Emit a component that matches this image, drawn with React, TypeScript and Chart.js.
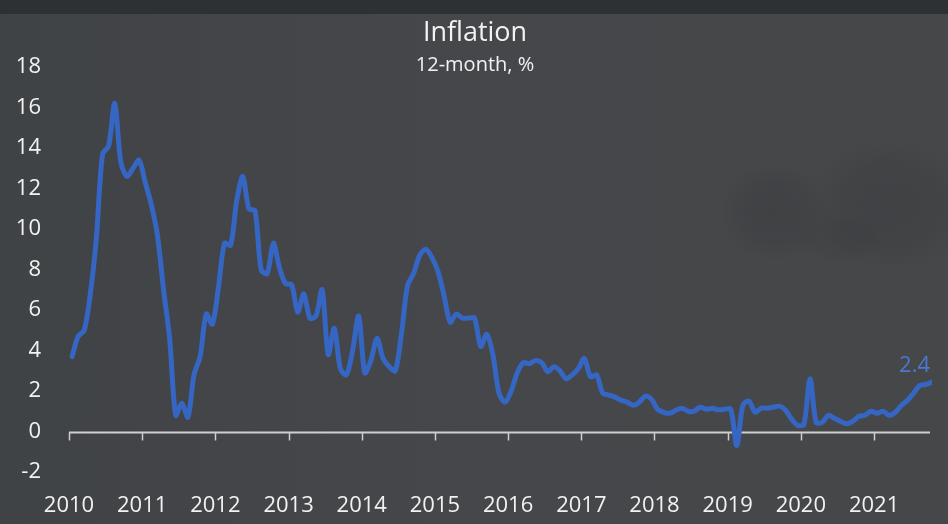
import React, { useEffect, useRef } from "react";
import { Chart, registerables } from "chart.js";

Chart.register(...registerables);

const chartTitle = "Inflation";
const chartSubtitle = "12-month, %";
const startYear = 2010;
const yearTicks = [2010, 2011, 2012, 2013, 2014, 2015, 2016, 2017, 2018, 2019, 2020, 2021];
const yTicks = [-2, 0, 2, 4, 6, 8, 10, 12, 14, 16, 18];

// Monthly 12-month inflation, %, Jan 2010 .. Oct 2021
const v2010 = [3.7, 4.7, 5.0, 6.8, 9.6, 13.7, 14.1, 16.2, 13.3, 12.6, 13.0, 13.4];
const v2011 = [12.3, 11.2, 9.7, 7.0, 4.6, 0.8, 1.4, 0.7, 2.8, 3.7, 5.8, 5.3];
const v2012 = [7.1, 9.3, 9.2, 11.4, 12.6, 11.0, 10.9, 8.0, 7.8, 9.3, 8.1, 7.3];
const v2013 = [7.25, 5.9, 6.8, 5.6, 5.7, 7.0, 3.8, 5.1, 3.1, 2.8, 4.0, 5.7];
const v2014 = [2.9, 3.5, 4.6, 3.6, 3.2, 3.0, 4.8, 7.2, 7.8, 8.7, 9.0, 8.6];
const v2015 = [7.9, 6.7, 5.4, 5.8, 5.6, 5.6, 5.6, 4.2, 4.8, 3.8, 1.9, 1.45];
const v2016 = [2.0, 2.9, 3.4, 3.35, 3.5, 3.4, 2.95, 3.2, 3.0, 2.6, 2.8, 3.1];
const v2017 = [3.6, 2.7, 2.8, 1.9, 1.8, 1.7, 1.55, 1.45, 1.3, 1.45, 1.75, 1.6];
const v2018 = [1.1, 0.95, 0.9, 1.05, 1.15, 1.0, 1.0, 1.2, 1.1, 1.15, 1.07, 1.1];
const v2019 = [1.1, -0.7, 1.3, 1.5, 0.95, 1.15, 1.15, 1.2, 1.25, 1.05, 0.6, 0.3];
const v2020 = [0.35, 2.6, 0.45, 0.45, 0.8, 0.65, 0.5, 0.38, 0.5, 0.75, 0.8, 1.0];
const v2021 = [0.9, 1.0, 0.8, 0.95, 1.3, 1.55, 1.9, 2.27, 2.32, 2.44];

const monthly = [...v2010, ...v2011, ...v2012, ...v2013, ...v2014, ...v2015, ...v2016, ...v2017, ...v2018, ...v2019, ...v2020, ...v2021];
const points = monthly.map((v, i) => ({ x: startYear + (i + 0.5) / 12, y: v }));
const lastPoint = points[points.length - 1];

const FONT = "'Open Sans', 'Noto Sans', sans-serif";
const LINE_COLOR = "#3566c4";
const TEXT_COLOR = "#f2f2f2";

const backgroundPlugin = {
  id: "bgPlugin",
  beforeDraw(chart: any) {
    const { ctx, width, height } = chart;
    ctx.save();
    const g = ctx.createLinearGradient(0, 0, width, 0);
    g.addColorStop(0, "#404346");
    g.addColorStop(0.5, "#46474a");
    g.addColorStop(1, "#454749");
    ctx.fillStyle = g;
    ctx.fillRect(0, 0, width, height);
    // top band
    ctx.fillStyle = "#2e3134";
    ctx.fillRect(0, 0, width, 14);
    // very faint tree silhouettes
    const blob = (cx: number, cy: number, rx: number, ry: number, a: number) => {
      ctx.save();
      ctx.translate(cx, cy);
      ctx.scale(rx / ry, 1);
      const rg = ctx.createRadialGradient(0, 0, 0, 0, 0, ry);
      rg.addColorStop(0, `rgba(50,54,56,${a})`);
      rg.addColorStop(0.6, `rgba(50,54,56,${a * 0.75})`);
      rg.addColorStop(1, "rgba(50,54,56,0)");
      ctx.fillStyle = rg;
      ctx.beginPath();
      ctx.arc(0, 0, ry, 0, Math.PI * 2);
      ctx.fill();
      ctx.restore();
    };
    blob(775, 212, 55, 50, 0.3);
    blob(890, 205, 80, 66, 0.28);
    blob(840, 238, 45, 25, 0.2);
    ctx.restore();
  },
};

const zeroAxisPlugin = {
  id: "zeroAxis",
  beforeDatasetsDraw(chart: any) {
    const { ctx, chartArea } = chart;
    const xs = chart.scales.x;
    const ys = chart.scales.y;
    const y0 = Math.round(ys.getPixelForValue(0)) + 0.5;
    ctx.save();
    ctx.strokeStyle = "#cfcfcf";
    ctx.lineWidth = 2;
    ctx.beginPath();
    ctx.moveTo(xs.getPixelForValue(yearTicks[0]), y0);
    ctx.lineTo(chartArea.right - 2, y0);
    ctx.stroke();
    ctx.lineWidth = 1.5;
    yearTicks.forEach((yr) => {
      const px = Math.round(xs.getPixelForValue(yr)) + 0.5;
      ctx.beginPath();
      ctx.moveTo(px, y0);
      ctx.lineTo(px, y0 + 8);
      ctx.stroke();
    });
    ctx.restore();
  },
};

const textPlugin = {
  id: "texts",
  afterDraw(chart: any) {
    const { ctx, width } = chart;
    const xs = chart.scales.x;
    const ys = chart.scales.y;
    ctx.save();
    ctx.fillStyle = TEXT_COLOR;
    ctx.textAlign = "center";
    ctx.textBaseline = "middle";
    ctx.font = `27px ${FONT}`;
    ctx.fillText(chartTitle, width / 2 + 1, 33);
    ctx.font = `20px ${FONT}`;
    ctx.fillText(chartSubtitle, width / 2 + 1, 65);
    // end label
    const lx = xs.getPixelForValue(lastPoint.x);
    const ly = ys.getPixelForValue(lastPoint.y);
    ctx.fillStyle = "#4a78d2";
    ctx.font = `22px ${FONT}`;
    ctx.textAlign = "right";
    ctx.textBaseline = "alphabetic";
    ctx.fillText(lastPoint.y.toFixed(1), lx - 2, ly - 10);
    ctx.restore();
  },
};

export default function App() {
  const ref = useRef<HTMLCanvasElement | null>(null);

  useEffect(() => {
    if (!ref.current) return;
    const chart = new Chart(ref.current, {
      type: "line",
      data: {
        datasets: [
          {
            data: points,
            borderColor: LINE_COLOR,
            borderWidth: 5,
            pointRadius: 0,
            tension: 0.3,
            borderCapStyle: "round",
            borderJoinStyle: "round",
            fill: false,
          },
        ],
      },
      options: {
        animation: false,
        responsive: false,
        maintainAspectRatio: false,
        layout: { padding: { left: 9, right: 16, top: 67, bottom: 0 } },
        plugins: {
          legend: { display: false },
          tooltip: { enabled: false },
          title: { display: false },
        },
        scales: {
          x: {
            type: "linear",
            min: yearTicks[0],
            max: lastPoint.x,
            grid: { display: false, drawTicks: false },
            border: { display: false },
            afterFit: (s: any) => {
              s.height = 52;
            },
            ticks: {
              stepSize: 1,
              includeBounds: false,
              autoSkip: false,
              maxRotation: 0,
              padding: 21,
              color: TEXT_COLOR,
              font: { family: FONT, size: 22 },
              callback: (v: any) => (yearTicks.includes(Number(v)) ? String(v) : ""),
            },
          },
          y: {
            min: yTicks[0],
            max: yTicks[yTicks.length - 1],
            grid: { display: false, drawTicks: false },
            border: { display: false },
            afterFit: (s: any) => {
              s.width = 60;
            },
            ticks: {
              stepSize: 2,
              padding: 28,
              color: TEXT_COLOR,
              font: { family: FONT, size: 22 },
              callback: (v: any) => String(v),
            },
          },
        },
      },
      plugins: [backgroundPlugin, zeroAxisPlugin, textPlugin],
    });
    return () => chart.destroy();
  }, []);

  return (
    <div style={{ position: "fixed", left: 0, top: 0, width: 948, height: 524, overflow: "hidden" }}>
      <canvas ref={ref} width={948} height={524} style={{ display: "block", width: 948, height: 524 }} />
    </div>
  );
}
